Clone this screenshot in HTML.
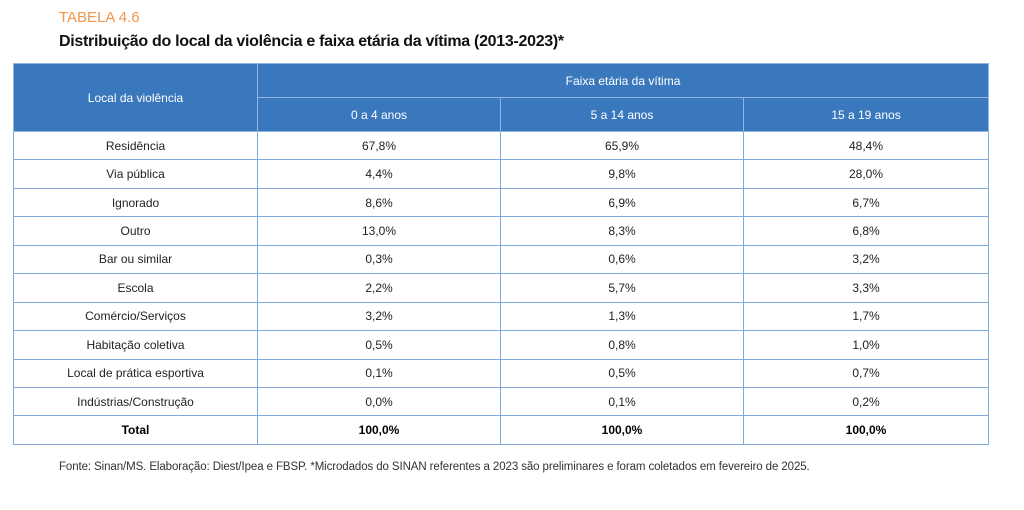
<!DOCTYPE html>
<html><head><meta charset="utf-8"><style>
body{margin:0;width:1024px;height:510px;background:#fff;font-family:"Liberation Sans",sans-serif;position:relative;overflow:hidden}
.t1{position:absolute;left:59px;top:9px;color:#f0954a;font-size:15px}
.t2{position:absolute;left:59px;top:33px;color:#111;font-size:16px;font-weight:bold;letter-spacing:-0.3px}
table{position:absolute;left:13px;top:63px;width:975px;border-collapse:collapse;table-layout:fixed}
td,th{border:1.5px solid #7eaadc;text-align:center;font-size:12px;color:#222;height:27.45px;padding:0}
th{background:#3a78bd;color:#fff;font-weight:normal;height:33px;border-color:#8fb6e2}
tr.tot td{font-weight:bold;color:#000}
.f{position:absolute;left:59px;top:461px;font-size:11.5px;color:#333;letter-spacing:-0.1px}
</style></head><body>
<div class="t1">TABELA 4.6</div>
<div class="t2">Distribuição do local da violência e faixa etária da vítima (2013-2023)*</div>
<table>
<colgroup><col style="width:244px"><col style="width:243px"><col style="width:243px"><col style="width:245px"></colgroup>
<tr><th rowspan="2">Local da violência</th><th colspan="3">Faixa etária da vítima</th></tr>
<tr><th>0 a 4 anos</th><th>5 a 14 anos</th><th>15 a 19 anos</th></tr>
<tr><td>Residência</td><td>67,8%</td><td>65,9%</td><td>48,4%</td></tr>
<tr><td>Via pública</td><td>4,4%</td><td>9,8%</td><td>28,0%</td></tr>
<tr><td>Ignorado</td><td>8,6%</td><td>6,9%</td><td>6,7%</td></tr>
<tr><td>Outro</td><td>13,0%</td><td>8,3%</td><td>6,8%</td></tr>
<tr><td>Bar ou similar</td><td>0,3%</td><td>0,6%</td><td>3,2%</td></tr>
<tr><td>Escola</td><td>2,2%</td><td>5,7%</td><td>3,3%</td></tr>
<tr><td>Comércio/Serviços</td><td>3,2%</td><td>1,3%</td><td>1,7%</td></tr>
<tr><td>Habitação coletiva</td><td>0,5%</td><td>0,8%</td><td>1,0%</td></tr>
<tr><td>Local de prática esportiva</td><td>0,1%</td><td>0,5%</td><td>0,7%</td></tr>
<tr><td>Indústrias/Construção</td><td>0,0%</td><td>0,1%</td><td>0,2%</td></tr>
<tr class="tot"><td>Total</td><td>100,0%</td><td>100,0%</td><td>100,0%</td></tr>
</table>
<div class="f">Fonte: Sinan/MS. Elaboração: Diest/Ipea e FBSP. *Microdados do SINAN referentes a 2023 são preliminares e foram coletados em fevereiro de 2025.</div>
</body></html>
